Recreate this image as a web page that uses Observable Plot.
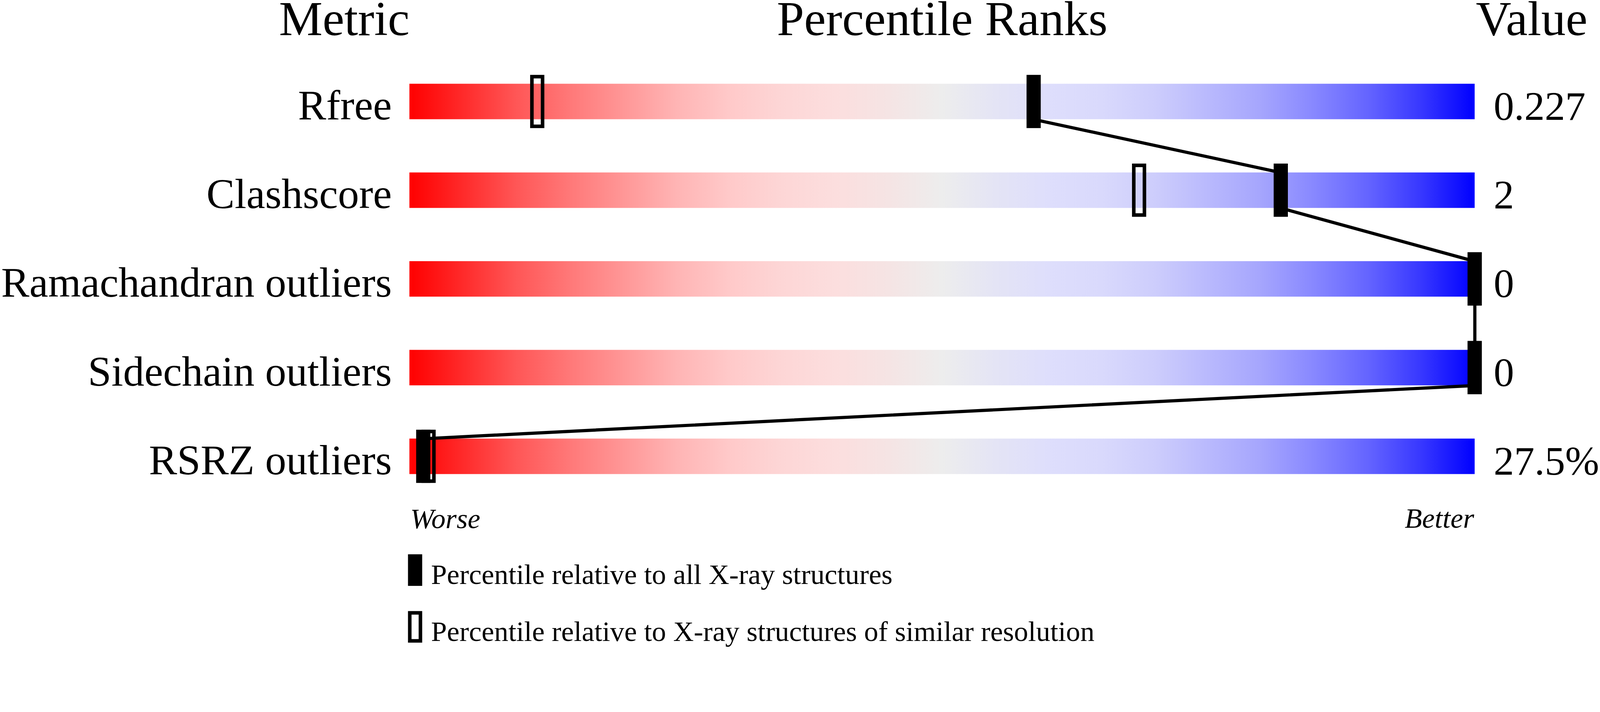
<!DOCTYPE html>
<html>
<head>
<meta charset="utf-8">
<script src="https://cdn.jsdelivr.net/npm/d3@7"></script>
<script src="https://cdn.jsdelivr.net/npm/@observablehq/plot@0.6"></script>
<style>
  html, body { margin: 0; padding: 0; background: #ffffff; }
  #chart svg { display: block; }
  #legend svg { display: block; max-width: 100%; height: auto; }
</style>
</head>
<body>
<div id="chart"></div>
<div id="legend"></div>
<script>
// ---- data ----
const metrics = ["Rfree", "Clashscore", "Ramachandran outliers", "Sidechain outliers", "RSRZ outliers"];
const valueLabels = ["0.227", "2", "0", "0", "27.5%"];
const pctAll = [58.6, 81.8, 100, 100, 1.3];      // percentile relative to all X-ray structures
const pctSimilar = [12, 68.5, 100, 100, 1.8];    // percentile relative to similar resolution
const headers = ["Metric", "Percentile Ranks", "Value"];
const scaleEnds = ["Worse", "Better"];
const legendLabels = ["Percentile relative to all X-ray structures", "Percentile relative to X-ray structures of similar resolution"];

// ---- style ----
const FONT = "'Liberation Serif', 'Times New Roman', serif";
const gradStops = [
  [0, "#ff0000"], [0.05, "#ff2a2a"], [0.10, "#ff5656"], [0.15, "#ff7878"], [0.20, "#ff9696"],
  [0.25, "#ffb4b4"], [0.30, "#ffc9c9"], [0.35, "#fdd6d6"], [0.40, "#fcdede"], [0.45, "#f5e4e4"],
  [0.50, "#ededed"], [0.55, "#e4e4f5"], [0.60, "#dedefc"], [0.65, "#d9d9fc"], [0.70, "#cdcdfc"],
  [0.75, "#b9b9fd"], [0.80, "#a5a5fd"], [0.85, "#8787ff"], [0.90, "#6464ff"], [0.95, "#3737ff"],
  [1, "#0000ff"]
];

const rows = metrics.map((m, i) => ({i, metric: m, value: valueLabels[i], all: pctAll[i], similar: pctSimilar[i]}));
const linePts = rows.flatMap(d => [{x: d.all, y: d.i - 0.2}, {x: d.all, y: d.i + 0.2}]);

const chart = Plot.plot({
  width: 4506,
  height: 1540,
  marginTop: 0, marginRight: 0, marginBottom: 0, marginLeft: 0,
  style: {fontFamily: FONT, background: "#ffffff", color: "#000000"},
  x: {domain: [0, 100], range: [1153, 4153], axis: null},
  y: {domain: [-0.5, metrics.length - 0.5], range: [161, 161 + 250 * metrics.length], axis: null},
  marks: [
    () => {
      const defs = d3.create("svg:defs");
      const g = defs.append("linearGradient").attr("id", "pr-grad")
        .attr("x1", "0%").attr("x2", "100%").attr("y1", "0%").attr("y2", "0%");
      g.selectAll("stop").data(gradStops).join("stop")
        .attr("offset", d => d[0]).attr("stop-color", d => d[1]);
      return defs.node();
    },
    // gradient bars
    Plot.rect(rows, {x1: 0, x2: 100, y1: d => d.i - 0.2, y2: d => d.i + 0.2, fill: "url(#pr-grad)"}),
    // connecting line
    Plot.line(linePts, {x: "x", y: "y", stroke: "#000000", strokeWidth: 9, strokeLinejoin: "round"}),
    // open markers (similar resolution)
    Plot.rect(rows, {x1: "similar", x2: "similar", y1: d => d.i - 0.28, y2: d => d.i + 0.28,
      insetLeft: -15, insetRight: -15, fill: "none", stroke: "#000000", strokeWidth: 10}),
    // filled markers (all structures)
    Plot.rect(rows, {x1: "all", x2: "all", y1: d => d.i - 0.3, y2: d => d.i + 0.3,
      insetLeft: -20, insetRight: -20, fill: "#000000"}),
    // metric labels
    Plot.text(rows, {x: 0, y: d => d.i + 0.2, text: "metric", textAnchor: "end", lineAnchor: "bottom",
      dx: -50, fontSize: 119, fontFamily: FONT, fill: "#000000"}),
    // values
    Plot.text(rows, {x: 100, y: d => d.i + 0.2, text: "value", textAnchor: "start", lineAnchor: "bottom",
      dx: 53, dy: 1, fontSize: 115, fontFamily: FONT, fill: "#000000"}),
    // headers
    Plot.text([headers[0]], {x: 0, frameAnchor: "top", text: d => d, textAnchor: "end", lineAnchor: "top",
      dy: 1, fontSize: 138, fontFamily: FONT, fill: "#000000"}),
    Plot.text([headers[1]], {x: 50, frameAnchor: "top", text: d => d, textAnchor: "middle", lineAnchor: "top",
      dy: 1, fontSize: 138, fontFamily: FONT, fill: "#000000"}),
    Plot.text([headers[2]], {x: 100, frameAnchor: "top", text: d => d, textAnchor: "start", lineAnchor: "top",
      dx: 3, dy: 1, fontSize: 138, fontFamily: FONT, fill: "#000000"}),
    // worse / better
    Plot.text([scaleEnds[0]], {x: 0, frameAnchor: "bottom", text: d => d, textAnchor: "start", lineAnchor: "bottom",
      dx: 2, dy: -52, fontSize: 80, fontStyle: "italic", fontFamily: FONT, fill: "#000000"}),
    Plot.text([scaleEnds[1]], {x: 100, frameAnchor: "bottom", text: d => d, textAnchor: "end", lineAnchor: "bottom",
      dx: -2, dy: -53, fontSize: 80, fontStyle: "italic", fontFamily: FONT, fill: "#000000"})
  ]
});
document.getElementById("chart").appendChild(chart);

// ---- legend (below the chart) ----
const leg = d3.select("#legend").append("svg")
  .attr("width", 4506).attr("height", 284)
  .attr("viewBox", "0 0 4506 284")
  .style("font-family", FONT);
const items = leg.selectAll("g").data(legendLabels).join("g")
  .attr("transform", (d, k) => `translate(1149, ${22 + 160 * k})`);
items.append("rect")
  .attr("x", (d, k) => k === 0 ? 0 : 5)
  .attr("y", (d, k) => k === 0 ? 0 : 5)
  .attr("width", (d, k) => k === 0 ? 40 : 30)
  .attr("height", (d, k) => k === 0 ? 89 : 79)
  .attr("fill", (d, k) => k === 0 ? "#000000" : "none")
  .attr("stroke", (d, k) => k === 0 ? "none" : "#000000")
  .attr("stroke-width", 10);
items.append("text")
  .attr("x", 65).attr("y", 84)
  .attr("font-size", 80)
  .attr("fill", "#000000")
  .text(d => d);
</script>
</body>
</html>
